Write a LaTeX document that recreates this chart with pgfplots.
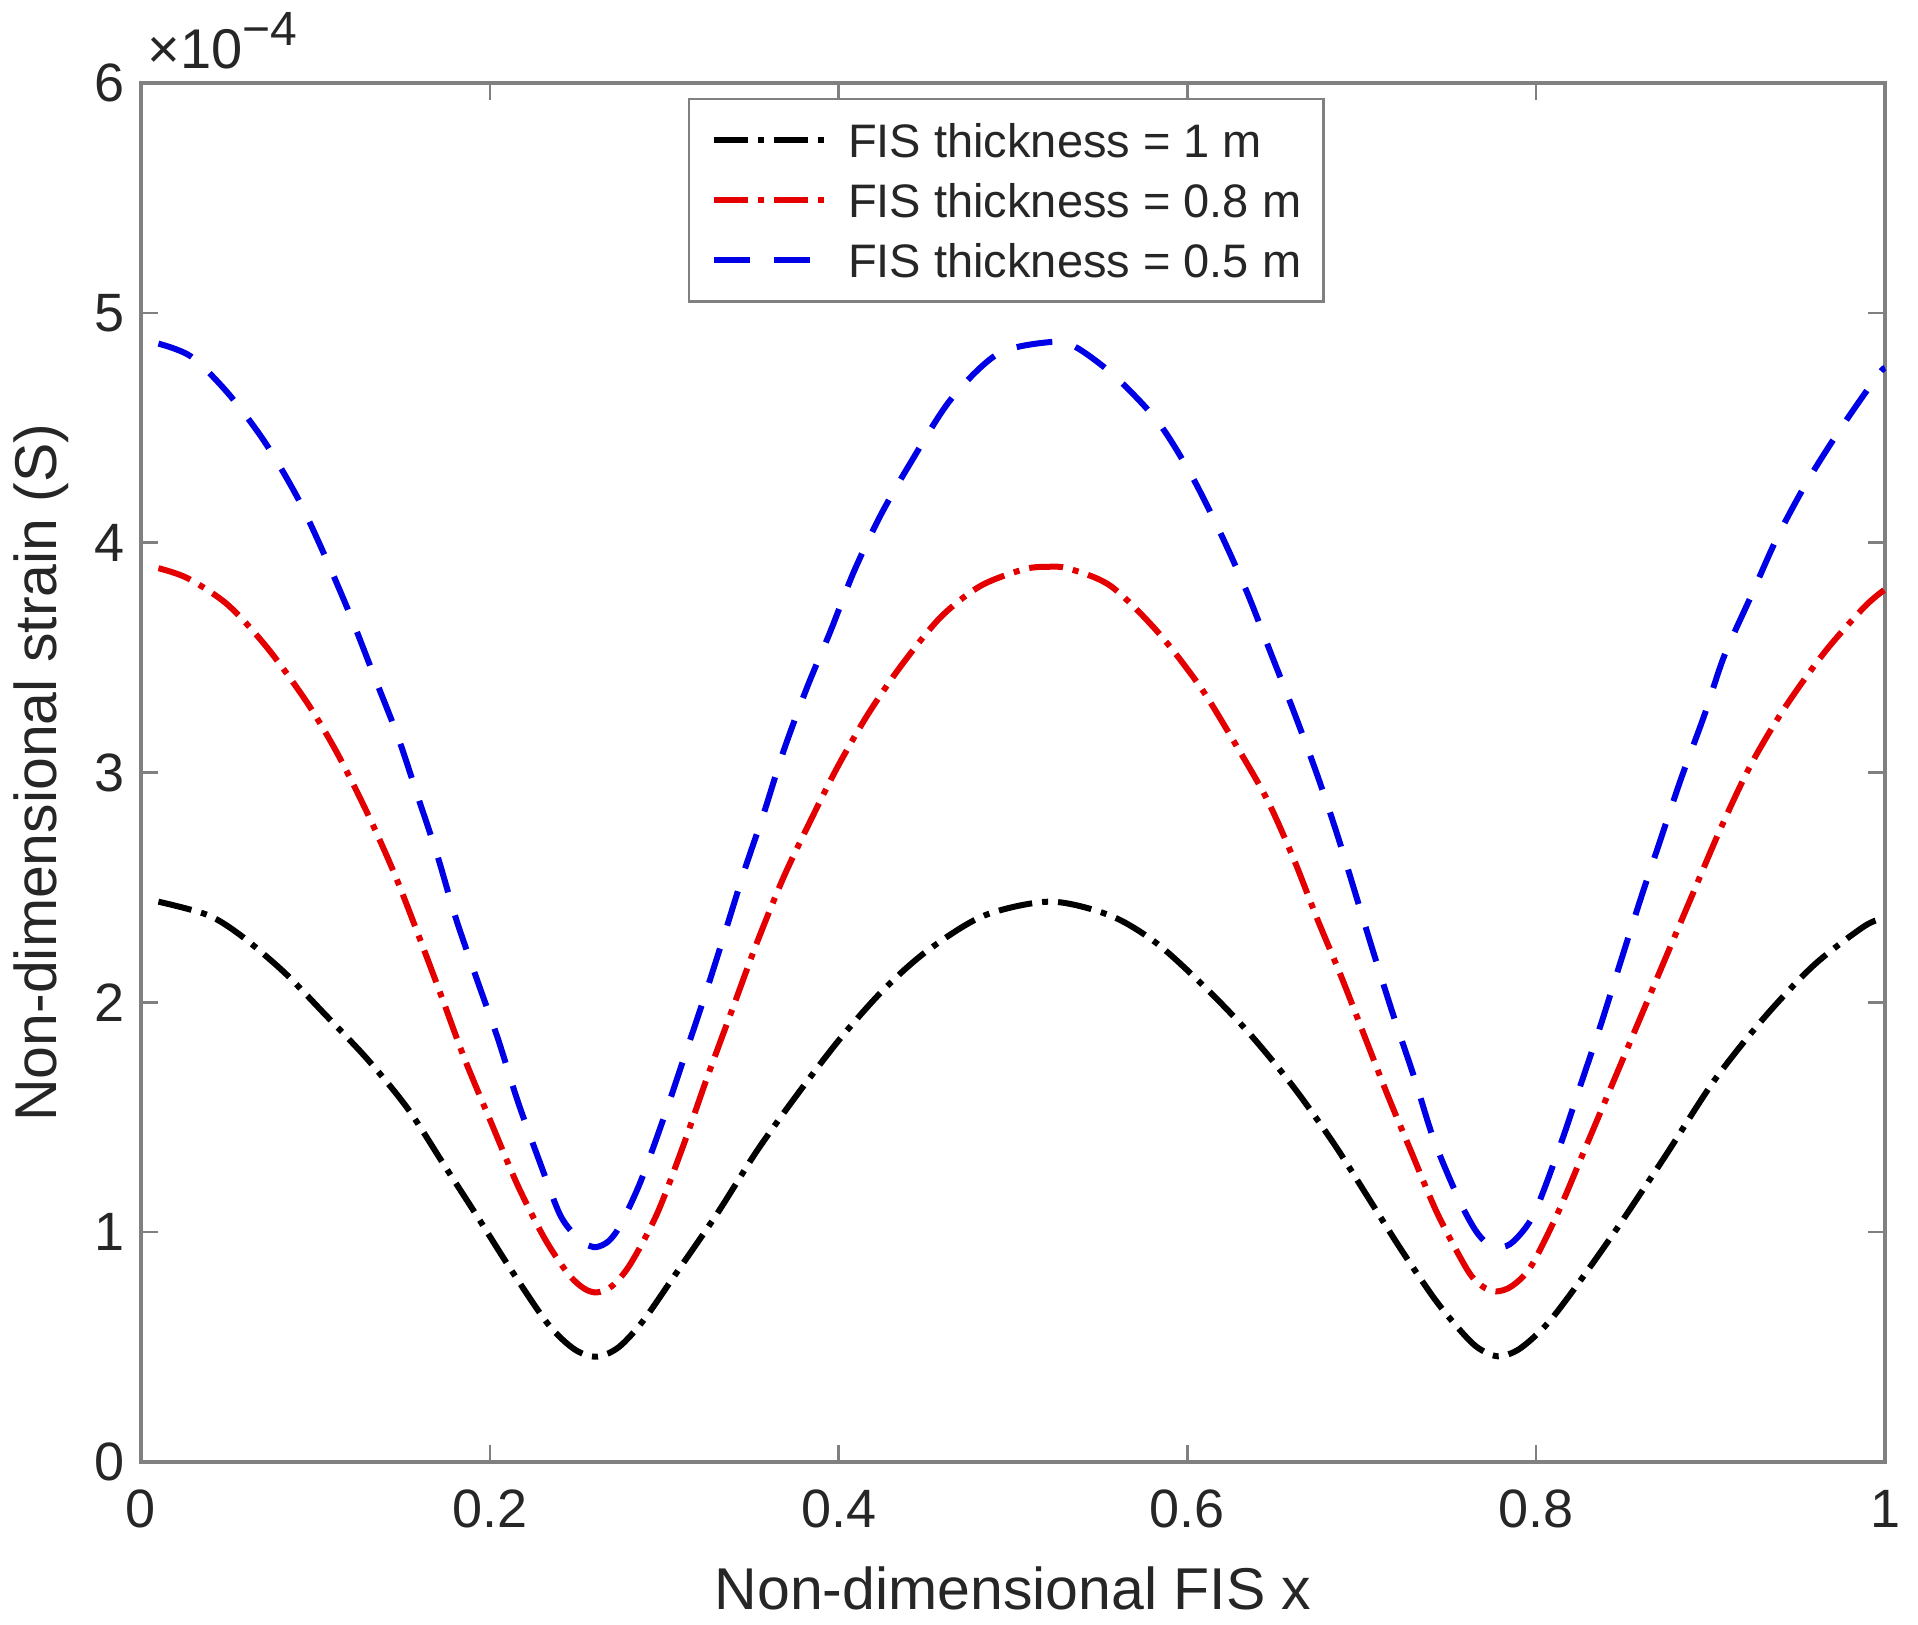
\documentclass[border=0pt]{standalone}
\usepackage{fontspec}
\setmainfont{Liberation Sans}
\usepackage{pgfplots}
\pgfplotsset{compat=1.18}
\definecolor{txt}{gray}{0.15}
\definecolor{axc}{gray}{0.5}
\definecolor{mblue}{RGB}{0,0,230}
\definecolor{mred}{RGB}{228,0,0}

\begin{document}
\begin{tikzpicture}
\begin{axis}[
  name=ax,
  scale only axis, width=436pt, height=344.75pt,
  at={(0,0)}, anchor=south west,
  xmin=0, xmax=1, ymin=0, ymax=6,
  xtick={0,0.2,0.4,0.6,0.8,1}, ytick={0,1,2,3,4,5,6},
  xticklabels={0,0.2,0.4,0.6,0.8,1},
  tick align=inside, major tick length=4.25pt,
  axis line style={axc, line width=0.8pt},
  every tick/.style={axc, line width=0.6pt},
  tick label style={font=\fontsize{13.5}{16}\selectfont, text=txt},
  /pgf/number format/assume math mode=true,
  xticklabel style={yshift=-3.5pt},
  yticklabel style={xshift=-0.5pt},
  xlabel={Non-dimensional FIS x},
  ylabel={Non-dimensional strain (S)},
  label style={font=\fontsize{14.75}{17}\selectfont, text=txt},
  xlabel style={at={(axis description cs:0.5,0)}, anchor=center, yshift=-31.5pt},
  ylabel style={at={(axis description cs:-0.0573,0.5)}, anchor=center},
  legend cell align=left,
  legend style={at={(0.3136,0.9891)}, anchor=north west, draw=axc, line width=0.6pt,
    fill=white, font=\fontsize{11.75}{14}\selectfont, text=txt,
    inner xsep=5.5pt, inner ysep=6pt, row sep=6.4pt, column sep=4.75pt,
    nodes={inner sep=0pt, text height=8.6pt, text depth=0pt}},
  legend image code/.code={\draw[#1] (0pt,0pt) -- (28pt,0pt);},
  clip=false,
]
\addplot[black, smooth, tension=0.5, line width=1.5pt, dash pattern=on 8.5pt off 2.5pt on 1.5pt off 2.5pt] coordinates {
(0.01,2.438) (0.0382,2.380) (0.0574,2.290) (0.0822,2.130) (0.1052,1.95) (0.130,1.751)
(0.153,1.537) (0.174,1.290) (0.1932,1.064) (0.2123,0.835) (0.2333,0.601) (0.2486,0.49)
(0.2614,0.458) (0.2740,0.50) (0.2880,0.615) (0.3054,0.805) (0.3303,1.08) (0.3532,1.354) (0.3762,1.598)
(0.401,1.843) (0.4259,2.056) (0.4508,2.224) (0.4833,2.377) (0.5215,2.438) (0.5559,2.377)
(0.5827,2.255) (0.6114,2.056) (0.6363,1.858) (0.6611,1.629) (0.684,1.385) (0.7032,1.156)
(0.7223,0.927) (0.7414,0.713) (0.7550,0.585) (0.7660,0.50) (0.7778,0.46) (0.7900,0.49) (0.8050,0.59) (0.8199,0.733)
(0.8447,0.998) (0.8734,1.324) (0.9021,1.66) (0.9308,1.934) (0.9594,2.163) (0.9881,2.331)
(1.0,2.368)
};
\addlegendentry{FIS thickness = 1 m}
\addplot[mred, smooth, tension=0.5, line width=1.5pt, dash pattern=on 8.5pt off 2.5pt on 1.5pt off 2.5pt] coordinates {
(0.01,3.889) (0.0268,3.845) (0.0497,3.73) (0.0727,3.54) (0.0956,3.30) (0.1128,3.08)
(0.130,2.82) (0.1453,2.56) (0.1587,2.30) (0.1721,2.03) (0.1855,1.755) (0.2008,1.476)
(0.2161,1.202) (0.2314,0.973) (0.2448,0.82) (0.2540,0.755) (0.2614,0.738) (0.2700,0.765) (0.2805,0.86)
(0.2959,1.08) (0.3111,1.38) (0.3245,1.67) (0.3398,1.985) (0.3532,2.26) (0.3685,2.545)
(0.3838,2.789) (0.3991,3.020) (0.4163,3.247) (0.4355,3.461) (0.4584,3.675) (0.4814,3.812)
(0.5062,3.884) (0.52,3.895) (0.5320,3.887) (0.5559,3.812) (0.5827,3.614) (0.6076,3.37)
(0.6286,3.11) (0.6458,2.881) (0.6611,2.621) (0.6745,2.362) (0.6879,2.118) (0.7013,1.858)
(0.7147,1.598) (0.7281,1.354) (0.7434,1.08) (0.7606,0.835) (0.7690,0.765) (0.7770,0.742) (0.7860,0.765) (0.7969,0.85)
(0.8122,1.08) (0.8275,1.354) (0.8428,1.629) (0.8581,1.904) (0.8734,2.179) (0.8887,2.453)
(0.9059,2.759) (0.9231,3.034) (0.9422,3.278) (0.9652,3.522) (0.9881,3.72) (1.0,3.797)
};
\addlegendentry{FIS thickness = 0.8 m}
\addplot[mblue, smooth, tension=0.5, line width=1.5pt, dash pattern=on 9pt off 6pt] coordinates {
(0.01,4.866) (0.0287,4.81) (0.0497,4.652) (0.0708,4.44) (0.0899,4.194) (0.105,3.95)
(0.1205,3.675) (0.1339,3.415) (0.1473,3.156) (0.1587,2.896) (0.170,2.637) (0.1807,2.362)
(0.1932,2.087) (0.2046,1.843) (0.2161,1.568) (0.2285,1.308) (0.2400,1.08) (0.2486,0.988)
(0.2550,0.948) (0.2610,0.935) (0.2680,0.960) (0.2748,1.030) (0.2863,1.217) (0.3002,1.507)
(0.3117,1.766) (0.3232,2.026) (0.3347,2.30) (0.3461,2.576) (0.357,2.82) (0.3685,3.095)
(0.3819,3.37) (0.3953,3.614) (0.4087,3.873) (0.424,4.118) (0.4412,4.347) (0.4641,4.621)
(0.491,4.82) (0.52,4.872) (0.5350,4.855) (0.5578,4.728) (0.5827,4.53) (0.6018,4.30)
(0.619,4.041) (0.6343,3.782) (0.6477,3.522) (0.6611,3.263) (0.6745,2.988) (0.686,2.728)
(0.6965,2.469) (0.707,2.209) (0.7185,1.934) (0.73,1.675) (0.7414,1.40) (0.7558,1.14)
(0.7650,1.01) (0.7720,0.950) (0.7790,0.933) (0.7870,0.960) (0.7988,1.08) (0.8141,1.385) (0.8256,1.644) (0.8371,1.904)
(0.8485,2.179) (0.86,2.453) (0.8715,2.713) (0.883,2.972) (0.8963,3.247) (0.9078,3.507)
(0.9231,3.766) (0.9384,4.026) (0.9557,4.27) (0.9748,4.499) (0.9958,4.728) (1.0,4.76)
};
\addlegendentry{FIS thickness = 0.5 m}
\end{axis}
\node[anchor=base west, inner sep=0pt, text=txt, font=\fontsize{14}{16}\selectfont]
  at ([xshift=1.5pt, yshift=3.75pt]ax.north west)
  {×10\raisebox{5.75pt}{\fontsize{12}{14}\selectfont −4}};
\pgfresetboundingbox
\path[use as bounding box] (-35.25pt,-40.75pt) rectangle (444.25pt,365.5pt);
\end{tikzpicture}
\end{document}
